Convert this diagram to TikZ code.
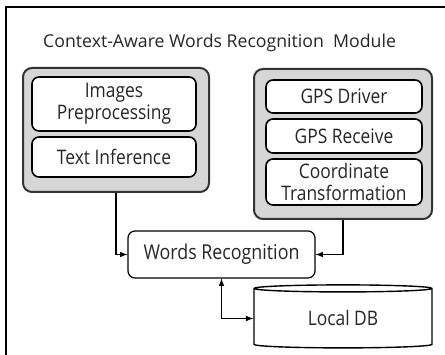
\documentclass[tikz,border=0pt]{standalone}
\usepackage{fontspec}
\setmainfont{Open Sans}[FakeStretch=0.87]
\newfontfamily\headfont{Open Sans}
\usetikzlibrary{shapes.geometric}

\begin{document}
\begin{tikzpicture}[x=1pt, y=-1pt, >=latex]
    % Node styles
    \tikzset{
      group box/.style={draw=black!80, line width=2pt, fill=black!16, rounded corners=9pt},
      part box/.style={draw=black, line width=1.6pt, fill=white, rounded corners=7pt,
        align=center, text=black!85, inner sep=0pt,
        font=\fontsize{20}{22}\selectfont},
      main box/.style={part box, line width=1.2pt, font=\fontsize{20.5}{22}\selectfont},
      store/.style={draw=black, line width=1.4pt, fill=white, text=black!85,
        cylinder, shape border rotate=90, aspect=0.1, inner sep=0pt,
        font=\fontsize{20}{22}\selectfont},
      link/.style={->, line width=1.5pt}
    }

    \useasboundingbox (0,0) rectangle (445,355);
    \clip (0,0) rectangle (445,355);

    % --- Outer frame ---
    \draw[line width=2.5pt] (6,7) rectangle (470,400);

    % --- Title ---
    \node[text=black!85, anchor=west, inner sep=0pt,
      font=\headfont\fontsize{17.7}{20}\selectfont] (title) at (43,43)
      {Context-Aware Words Recognition\ \ Module};

    % --- Group boxes ---
    \node[group box, minimum width=186pt, minimum height=124pt] (lgrp) at (116,130) {};
    \node[group box, minimum width=178pt, minimum height=150pt] (rgrp) at (343,144) {};

    % --- Left group parts ---
    \node[part box, minimum width=164pt, minimum height=54pt] (prep) at (114,104)
      {Images\\Preprocessing};
    \node[part box, minimum width=164pt, minimum height=40pt] (infer) at (114,157)
      {Text Inference};

    % --- Right group parts ---
    \node[part box, minimum width=156pt, minimum height=33pt] (gpsdrv) at (344,96.5)
      {GPS Driver};
    \node[part box, minimum width=156pt, minimum height=34pt] (gpsrcv) at (344,136)
      {GPS Receive};
    \node[part box, minimum width=156pt, minimum height=46pt] (coord) at (344,182)
      {Coordinate\\Transformation};

    % --- Recognition and database ---
    \node[main box, minimum width=187pt, minimum height=47pt] (words) at (221.5,254.5)
      {Words Recognition};
    \node[store, minimum width=178pt, minimum height=63pt] (db) at (343,318.5)
      {Local DB};

    % --- Connections ---
    \draw[link] (lgrp.south) |- (words.west);
    \draw[link] (rgrp.south) |- (words.east);
    \draw[link, <->] (words.south) |- (db.west);

\end{tikzpicture}
\end{document}
